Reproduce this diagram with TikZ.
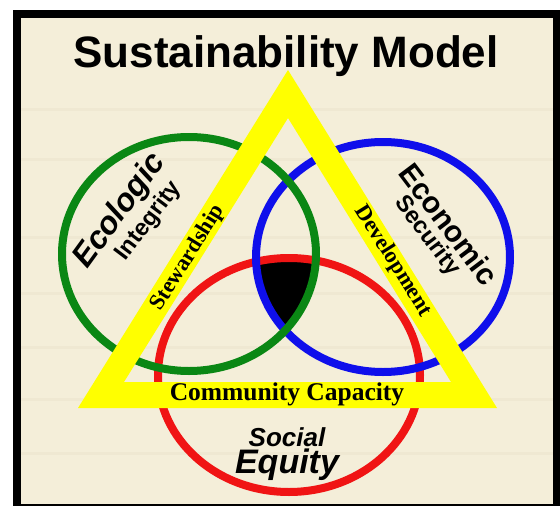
\documentclass[tikz,border=0pt]{standalone}
\usepackage{fontspec}
\setmainfont{Liberation Serif}
\newfontfamily\arialf{Liberation Sans}
\definecolor{cream}{RGB}{244,238,217}
\definecolor{streak}{RGB}{228,220,196}
\definecolor{ringgreen}{RGB}{10,135,20}
\definecolor{ringblue}{RGB}{15,15,235}
\definecolor{ringred}{RGB}{240,20,20}
\definecolor{tri}{RGB}{255,255,0}
\tikzset{
  ring/.style={line width=8pt},
  streakband/.style={fill=streak, opacity=0.3},
  sanslabel/.style={inner sep=0pt, text=black},
  serifband/.style={inner sep=0pt, text=black, font=\bfseries\fontsize{22.5}{24}\selectfont},
}
\begin{document}
\begin{tikzpicture}[x=1pt,y=-1pt]
\useasboundingbox (0,0) rectangle (560,506);
\fill[white] (0,0) rectangle (560,506);
\fill[black] (13,10) rectangle (560,506);
\fill[cream] (21,18) rectangle (553,504);
% faint paper streaks
\foreach \yy in {108,158,236,292,346,398,452}{
  \fill[streakband] (21,\yy) rectangle (553,\yy+2.5);
}
% circle centres
\coordinate (cg) at (189,254);
\coordinate (cb) at (383,257);
\coordinate (cr) at (289,375);
% black common region
\begin{scope}
  \clip (cg) ellipse [x radius=127pt, y radius=117pt];
  \clip (cb) ellipse [x radius=127pt, y radius=115pt];
  \fill[black] (cr) ellipse [x radius=131pt, y radius=117pt];
\end{scope}
\draw[ring, ringred] (cr) ellipse [x radius=131pt, y radius=117pt];
\draw[ring, ringblue] (cb) ellipse [x radius=127pt, y radius=115pt];
\draw[ring, ringgreen] (cg) ellipse [x radius=127pt, y radius=117pt];
% triangle
\fill[tri, even odd rule] (288,70) -- (78,408) -- (497,408) -- cycle
  (288,118) -- (124,382) -- (451,382) -- cycle;
% texts
\node[sanslabel, anchor=base, font=\arialf\bfseries\fontsize{44}{48}\selectfont] (title) at (286,67) {Sustainability Model};
\node[sanslabel, rotate=54, font=\arialf\bfseries\itshape\fontsize{32}{36}\selectfont] (eco) at (120,211) {Ecologic};
\node[sanslabel, rotate=53, font=\arialf\bfseries\fontsize{23.5}{26}\selectfont] (integ) at (149,221) {Integrity};
\node[sanslabel, rotate=-53, font=\arialf\bfseries\fontsize{30}{34}\selectfont] (econ) at (449,224) {Economic};
\node[sanslabel, rotate=-53, font=\arialf\bfseries\fontsize{23.5}{26}\selectfont] (sec) at (427,236) {Security};
\node[serifband, rotate=58] (stew) at (188,258) {Stewardship};
\node[serifband, rotate=-58] (dev) at (393,261) {Development};
\node[serifband, anchor=base, font=\bfseries\fontsize{25.5}{27}\selectfont] (cc) at (287,400) {Community Capacity};
\node[sanslabel, anchor=base, font=\arialf\bfseries\itshape\fontsize{26}{28}\selectfont] (soc) at (287,446) {Social};
\node[sanslabel, anchor=base, font=\arialf\bfseries\itshape\fontsize{34}{36}\selectfont] (eq) at (287,473) {Equity};
\end{tikzpicture}
\end{document}
